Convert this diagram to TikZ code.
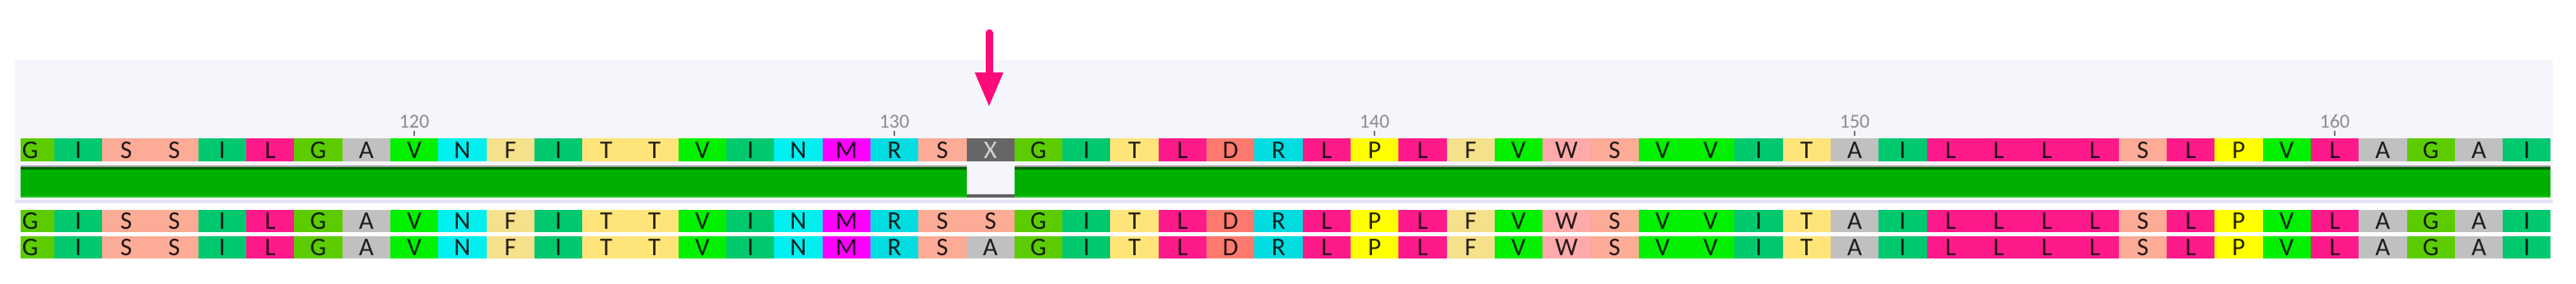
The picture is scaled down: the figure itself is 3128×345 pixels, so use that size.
\documentclass[tikz,border=0pt]{standalone}
\usepackage{fontspec}
\setmainfont{Carlito}
\newfontfamily\seqfont{Carlito}
\usetikzlibrary{arrows.meta}

\definecolor{aaG}{HTML}{5CCC00}
\definecolor{aaI}{HTML}{00C86E}
\definecolor{aaS}{HTML}{FBAB96}
\definecolor{aaL}{HTML}{FF1A8C}
\definecolor{aaA}{HTML}{C0C0C0}
\definecolor{aaV}{HTML}{00F000}
\definecolor{aaN}{HTML}{00F0F0}
\definecolor{aaF}{HTML}{F5E08C}
\definecolor{aaT}{HTML}{FFE47A}
\definecolor{aaM}{HTML}{FF00FF}
\definecolor{aaR}{HTML}{00DCE0}
\definecolor{aaD}{HTML}{FF7A6E}
\definecolor{aaP}{HTML}{FFFF00}
\definecolor{aaW}{HTML}{FFAAAA}
\definecolor{aaX}{HTML}{666666}
\definecolor{panelbg}{HTML}{F5F5FC}
\definecolor{panelline}{HTML}{E4E4F8}
\definecolor{bargreen}{HTML}{00B000}
\definecolor{bardark}{HTML}{006000}
\definecolor{barlight}{HTML}{22C822}
\definecolor{markpink}{HTML}{FF0A78}

\def\seqtop{G,I,S,S,I,L,G,A,V,N,F,I,T,T,V,I,N,M,R,S,X,G,I,T,L,D,R,L,P,L,F,V,W,S,V,V,I,T,A,I,L,L,L,L,S,L,P,V,L,A,G,A,I}

\tikzset{
    res/.style={minimum width=58.3pt, minimum height=27.5pt, inner sep=0pt,
        text height=20pt, text depth=0pt, text=black, text opacity=0.85,
        font=\seqfont\fontsize{31}{31}\selectfont},
    res X/.style={text=black!18, text opacity=1},
    ruler/.style={inner sep=0pt, text=black!45, font=\fontsize{24}{24}\selectfont},
    rulertick/.style={draw=black!55, line width=2pt},
    markarrow/.style={draw=markpink, line width=9pt, line cap=round,
        -{Triangle[width=32pt, length=42pt]}}
}

\begin{document}
\begin{tikzpicture}[x=1pt, y=-1pt]
    \useasboundingbox (0,0) rectangle (3128,345);

    % Draw panel
    \fill[panelbg] (18,73) rectangle (3100,243);
    \fill[panelline] (18,243) rectangle (3100,247);

    % Draw identity bar
    \fill[black!38] (25,200.5) rectangle (1173.5,202.5);
    \fill[bardark] (25,202.5) rectangle (1173.5,206);
    \fill[bargreen] (25,206) rectangle (1173.5,238);
    \fill[barlight] (25,238) rectangle (1173.5,240);
    \fill[black!38] (1231.8,200.5) rectangle (3097.4,202.5);
    \fill[bardark] (1231.8,202.5) rectangle (3097.4,206);
    \fill[bargreen] (1231.8,206) rectangle (3097.4,238);
    \fill[barlight] (1231.8,238) rectangle (3097.4,240);
    \fill[black!62] (1173.5,236) rectangle (1231.8,240);

    % Draw residues
    \begin{scope}
        \clip (25,0) rectangle (3128,345);
        \foreach \aa [count=\i] in \seqtop {
            \pgfmathsetmacro\cx{7.5+58.3*(\i-0.5)}
            \ifnum\i=21 \def\bb{S}\def\cc{A}\else \let\bb\aa \let\cc\aa \fi
            \node[res, res \aa/.try, fill=aa\aa] (top\i) at (\cx,182) {\aa};
            \node[res, fill=aa\bb] (mid\i) at (\cx,268.5) {\bb};
            \node[res, fill=aa\cc] (low\i) at (\cx,300.5) {\cc};
        }
    \end{scope}

    % Labels
    \foreach \n in {120,130,140,150,160} {
        \pgfmathsetmacro\lx{7.5+58.3*(\n-111.5)}
        \node[ruler] (lbl\n) at (\lx,147.5) {\n};
        \draw[rulertick] (\lx,159) -- (\lx,165);
    }

    % Marker
    \coordinate (arrowtail) at (1201,40);
    \coordinate (arrowtip) at (1201,130);
    \draw[markarrow] (arrowtail) -- (arrowtip);
\end{tikzpicture}
\end{document}
